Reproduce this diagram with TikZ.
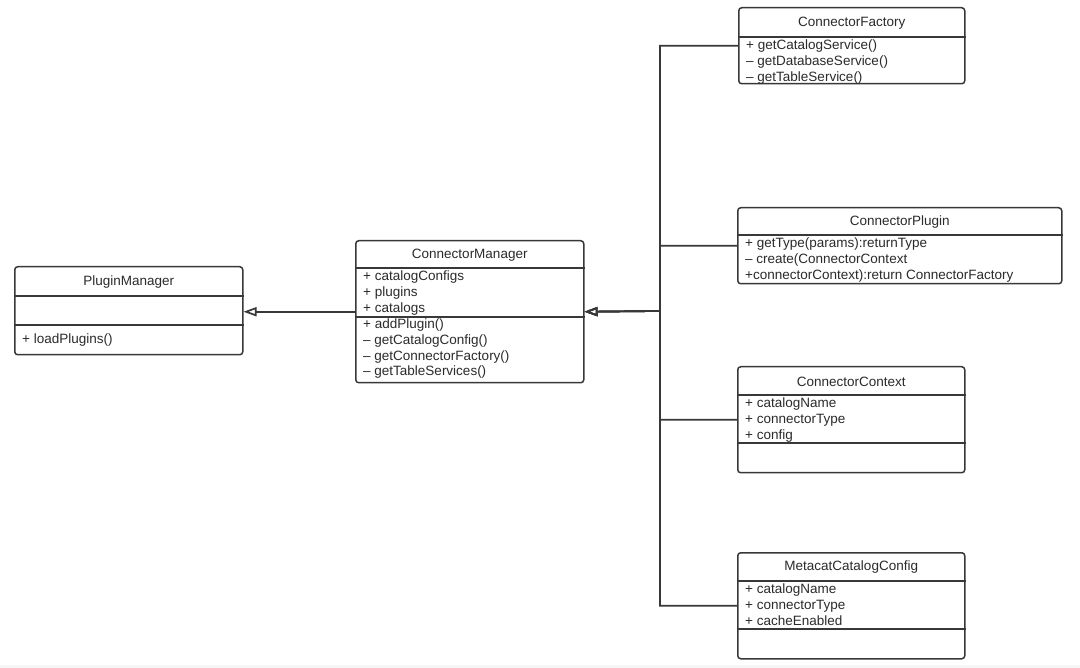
\documentclass[tikz,border=0pt]{standalone}
\usepackage{fontspec}
\setmainfont{Liberation Sans}
\usepackage{xcolor}
\usepackage{tikz}
\usetikzlibrary{arrows.meta,positioning}
\definecolor{umlline}{HTML}{383838}
\definecolor{umltext}{HTML}{2B2B2B}
\tikzset{
  classbox/.style={rectangle,rounded corners=3pt,draw=umlline,line width=1.5pt,anchor=north west,inner sep=0pt},
  classname/.style={font=\fontsize{13.5}{15.7}\selectfont,text=umltext,inner sep=0pt},
  members/.style={font=\fontsize{13.5}{15.7}\selectfont,text=umltext,align=left,anchor=north west,inner sep=0pt},
  divider/.style={draw=umlline,line width=1.5pt},
  inherit/.style={-{Triangle[open,length=13pt,width=9pt]},line width=1.7pt,draw=umlline}
}
\newcommand{\firstline}{\rule{0pt}{12.5pt}}

\begin{document}
\begin{tikzpicture}[x=1pt,y=-1pt]
  \useasboundingbox (0,0) rectangle (1080,668);
  \fill[white] (0,0) rectangle (1080,668);
  \fill[black!4] (0,665) rectangle (1080,668);

  % class boxes
  \node[classbox,minimum width=228pt,minimum height=88pt] (pm) at (14,266) {};
  \node[classbox,minimum width=228pt,minimum height=142pt] (cm) at (355,240) {};
  \node[classbox,minimum width=226pt,minimum height=76pt] (cf) at (738,7) {};
  \node[classbox,minimum width=324pt,minimum height=76pt] (cp) at (737,207) {};
  \node[classbox,minimum width=227pt,minimum height=106pt] (cc) at (737,366) {};
  \node[classbox,minimum width=227pt,minimum height=106pt] (mc) at (737,552) {};

  % PluginManager
  \node[classname] (pmName) at ([yshift=-16pt]pm.north) {PluginManager};
  \draw[divider] ([yshift=-30pt]pm.north west) -- ([yshift=-30pt]pm.north east);
  \draw[divider] ([yshift=-59pt]pm.north west) -- ([yshift=-59pt]pm.north east);
  \node[members,anchor=west] (pmOps) at ([xshift=8pt,yshift=-74.5pt]pm.north west) {+ loadPlugins()};

  % ConnectorManager
  \node[classname] (cmName) at ([yshift=-15pt]cm.north) {ConnectorManager};
  \draw[divider] ([yshift=-28pt]cm.north west) -- ([yshift=-28pt]cm.north east);
  \draw[divider] ([yshift=-77pt]cm.north west) -- ([yshift=-77pt]cm.north east);
  \node[members] (cmAttr) at ([xshift=8pt,yshift=-28pt]cm.north west)
    {\firstline+ catalogConfigs\\+ plugins\\+ catalogs};
  \node[members] (cmOps) at ([xshift=8pt,yshift=-76pt]cm.north west)
    {\firstline+ addPlugin()\\– getCatalogConfig()\\– getConnectorFactory()\\– getTableServices()};

  % ConnectorFactory
  \node[classname] (cfName) at ([yshift=-16pt]cf.north) {ConnectorFactory};
  \draw[divider] ([yshift=-30pt]cf.north west) -- ([yshift=-30pt]cf.north east);
  \node[members] (cfOps) at ([xshift=8pt,yshift=-30pt]cf.north west)
    {\firstline+ getCatalogService()\\– getDatabaseService()\\– getTableService()};

  % ConnectorPlugin
  \node[classname] (cpName) at ([yshift=-15pt]cp.north) {ConnectorPlugin};
  \draw[divider] ([yshift=-28pt]cp.north west) -- ([yshift=-28pt]cp.north east);
  \node[members] (cpOps) at ([xshift=8pt,yshift=-28pt]cp.north west)
    {\firstline+ getType(params):returnType\\– create(ConnectorContext\\+connectorContext):return ConnectorFactory};

  % ConnectorContext
  \node[classname] (ccName) at ([yshift=-15.5pt]cc.north) {ConnectorContext};
  \draw[divider] ([yshift=-29pt]cc.north west) -- ([yshift=-29pt]cc.north east);
  \draw[divider] ([yshift=-77pt]cc.north west) -- ([yshift=-77pt]cc.north east);
  \node[members] (ccAttr) at ([xshift=8pt,yshift=-29pt]cc.north west)
    {\firstline+ catalogName\\+ connectorType\\+ config};

  % MetacatCatalogConfig
  \node[classname] (mcName) at ([yshift=-15.5pt]mc.north) {MetacatCatalogConfig};
  \draw[divider] ([yshift=-29pt]mc.north west) -- ([yshift=-29pt]mc.north east);
  \draw[divider] ([yshift=-77pt]mc.north west) -- ([yshift=-77pt]mc.north east);
  \node[members] (mcAttr) at ([xshift=8pt,yshift=-29pt]mc.north west)
    {\firstline+ catalogName\\+ connectorType\\+ cacheEnabled};

  % generalisation arrows
  \coordinate (trunk) at (660,311);
  \draw[inherit] (cm.west) -- (cm.west -| pm.east);
  \draw[inherit] (cf.west) -| (trunk) -- (cm.east);
  \draw[inherit] (cp.west) -| (trunk) -- (cm.east);
  \draw[inherit] (cc.west) -| (trunk) -- (cm.east);
  \draw[inherit] (mc.west) -| (trunk) -- (cm.east);
\end{tikzpicture}
\end{document}
